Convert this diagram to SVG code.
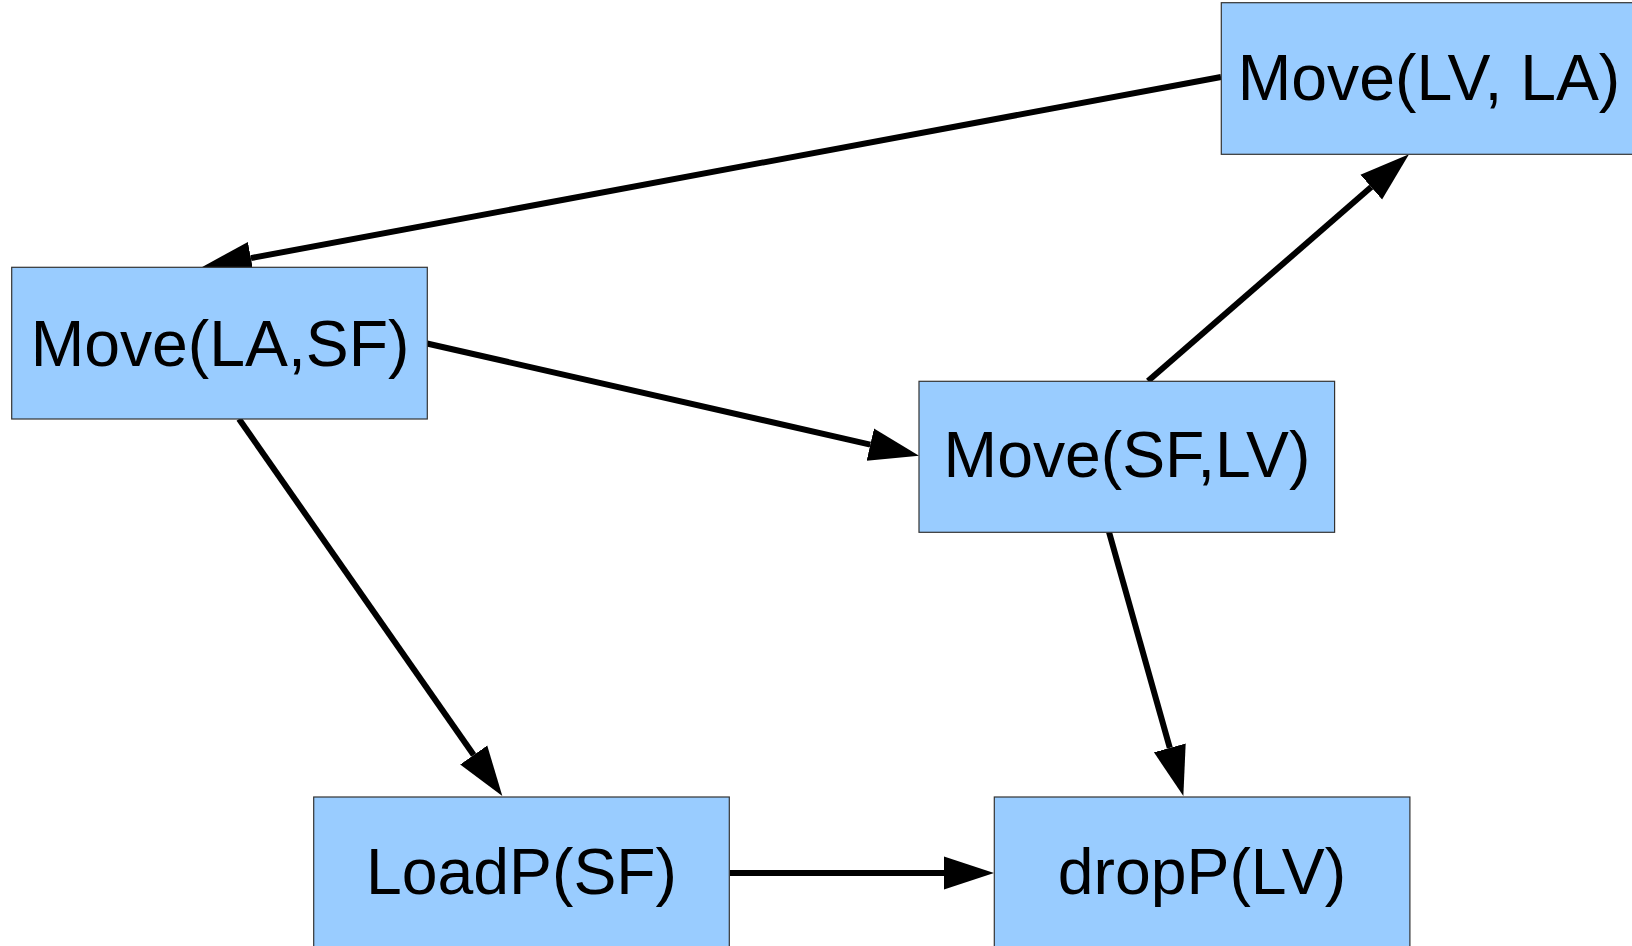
<svg xmlns="http://www.w3.org/2000/svg" width="1632" height="946" viewBox="0 0 1632 946">
<style>
.box{fill:#99ccff;stroke:#333333;stroke-width:1.2}
.lbl{font-family:"Liberation Sans",Arial,sans-serif;font-size:64.3px;fill:#000;text-anchor:middle}
.edge{stroke:#000;stroke-width:6;fill:none}
</style>
<defs>
<marker id="ah" markerUnits="userSpaceOnUse" markerWidth="52" markerHeight="36" viewBox="0 -18 52 36" refX="0" refY="0" orient="auto">
<path d="M0,-16.5 L50,0 L0,16.5 Z" fill="#000"/>
</marker>
</defs>
<rect width="1632" height="946" fill="#ffffff"/>
<g id="connectors">
<line class="edge" x1="1221" y1="77" x2="250.9" y2="258.1" marker-end="url(#ah)"/>
<line class="edge" x1="427" y1="343.5" x2="870.3" y2="444.6" marker-end="url(#ah)"/>
<line class="edge" x1="239" y1="419" x2="473.7" y2="755" marker-end="url(#ah)"/>
<line class="edge" x1="1148" y1="381" x2="1371.25" y2="187.1" marker-end="url(#ah)"/>
<line class="edge" x1="1109" y1="532" x2="1169.8" y2="747.9" marker-end="url(#ah)"/>
<line class="edge" x1="730" y1="873" x2="944" y2="873" marker-end="url(#ah)"/>
</g>
<g id="node-move-lv-la">
<rect class="box" x="1221.3" y="2.7" width="415.6" height="151.6"/>
<text class="lbl" x="1429" y="100">Move(LV, LA)</text>
</g>
<g id="node-move-la-sf">
<rect class="box" x="11.7" y="267.3" width="415.6" height="151.7"/>
<text class="lbl" x="220" y="366">Move(LA,SF)</text>
</g>
<g id="node-move-sf-lv">
<rect class="box" x="919" y="381.3" width="415.6" height="151"/>
<text class="lbl" x="1127" y="477">Move(SF,LV)</text>
</g>
<g id="node-loadp-sf">
<rect class="box" x="313.7" y="797" width="415.6" height="152"/>
<text class="lbl" x="521.5" y="894">LoadP(SF)</text>
</g>
<g id="node-dropp-lv">
<rect class="box" x="994.3" y="797" width="415.6" height="152"/>
<text class="lbl" x="1202" y="894">dropP(LV)</text>
</g>
</svg>
